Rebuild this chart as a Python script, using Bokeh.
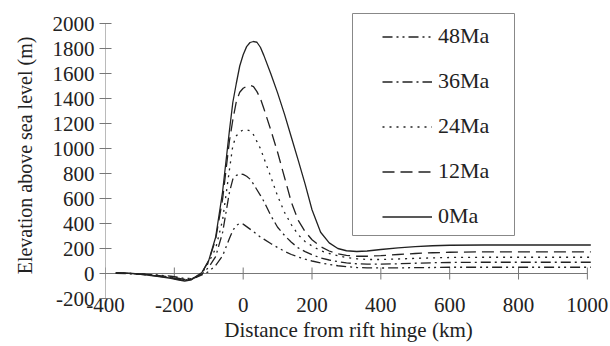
import numpy as np
from bokeh.plotting import figure
from bokeh.models import Legend, LegendItem, Range1d, FixedTicker, BoxAnnotation
from bokeh.embed import file_html
from bokeh.resources import INLINE

# ---- data ----
X_KM = [-370, -330, -290, -250, -210, -190, -170, -150, -135, -120, -100, -80, -60, -40, -30, -20, -10,
        0, 10, 20, 30, 40, 50, 60, 80, 100, 120, 140, 160, 180, 200, 225, 250, 275, 300, 330, 360,
        400, 450, 500, 550, 600, 700, 800, 900, 1010]

ELEV_0MA = [6, 2, -8, -22, -38, -50, -60, -50, -22, 8, 105, 290, 650, 1142, 1370, 1520, 1660,
            1750, 1815, 1848, 1856, 1850, 1810, 1745, 1600, 1445, 1275, 1090, 905, 715, 510, 330, 245, 200, 182, 176, 180,
            192, 205, 215, 222, 226, 228, 228, 228, 228]
ELEV_12MA = [5, 1, -8, -20, -35, -46, -55, -46, -20, 6, 100, 275, 590, 1060, 1230, 1375, 1450,
             1482, 1498, 1505, 1495, 1455, 1400, 1320, 1150, 970, 770, 570, 425, 335, 270, 215, 180, 158, 145, 138, 138,
             143, 152, 160, 166, 170, 173, 173, 173, 173]
ELEV_24MA = [4, 0, -7, -18, -32, -42, -52, -44, -22, 0, 90, 200, 425, 828, 1025, 1100, 1135,
             1148, 1150, 1142, 1110, 1055, 1000, 925, 775, 620, 490, 390, 310, 255, 220, 182, 160, 142, 128, 118, 112,
             112, 116, 121, 125, 128, 130, 130, 130, 130]
ELEV_36MA = [3, 0, -6, -15, -28, -38, -48, -42, -25, -5, 50, 135, 325, 648, 755, 785, 795,
             793, 778, 755, 715, 670, 625, 578, 465, 370, 305, 250, 205, 175, 150, 125, 108, 95, 85, 78, 75,
             75, 78, 82, 86, 88, 90, 90, 90, 90]
ELEV_48MA = [2, -1, -5, -12, -22, -30, -40, -38, -30, -12, 15, 65, 140, 280, 345, 385, 400,
             395, 375, 355, 335, 312, 292, 275, 240, 208, 178, 152, 132, 115, 100, 85, 72, 62, 55, 48, 45,
             44, 45, 47, 48, 50, 50, 50, 50, 50]

SERIES_LABELS = ["48Ma", "36Ma", "24Ma", "12Ma", "0Ma"]
X_TICKS = [-400, -200, 0, 200, 400, 600, 800, 1000]
Y_TICKS = [-200, 0, 200, 400, 600, 800, 1000, 1200, 1400, 1600, 1800, 2000]

FONT = "Liberation Serif"
INK = "#222222"
AXIS = "#777777"

# frame headroom above the top tick so the legend box fits inside the frame
p = figure(width=610, height=346, x_range=Range1d(X_TICKS[0], X_TICKS[-1] + 12),
           y_range=Range1d(Y_TICKS[0], Y_TICKS[-1] + 88),
           output_backend="svg", toolbar_location=None,
           min_border_left=105, min_border_right=19, min_border_top=12, min_border_bottom=48)
p.outline_line_color = None
p.grid.visible = False
p.background_fill_color = "white"

# x axis (labels only, below the frame)
xa = p.xaxis[0]
xa.ticker = FixedTicker(ticks=X_TICKS)
xa.major_label_overrides = {t: str(t) for t in X_TICKS}
xa.axis_line_color = None
xa.major_tick_line_color = None
xa.minor_tick_line_color = None
xa.major_label_standoff = -7
xa.axis_label = "Distance from rift hinge (km)"
xa.axis_label_standoff = 3
xa.major_label_text_font = FONT
xa.major_label_text_font_size = "21px"
xa.major_label_text_color = INK
xa.axis_label_text_font = FONT
xa.axis_label_text_font_size = "21px"
xa.axis_label_text_font_style = "normal"
xa.axis_label_text_color = INK

# y axis (ticks + labels; line drawn separately so it stops at the top tick)
ya = p.yaxis[0]
ya.ticker = FixedTicker(ticks=Y_TICKS)
ya.major_label_overrides = {t: str(t) for t in Y_TICKS}
ya.axis_line_color = None
ya.major_tick_line_color = AXIS
ya.minor_tick_line_color = None
ya.major_tick_in = 6
ya.major_tick_out = 6
ya.major_label_standoff = 5
ya.axis_label = "Elevation above sea level (m)"
ya.axis_label_standoff = 14
ya.major_label_text_font = FONT
ya.major_label_text_font_size = "21px"
ya.major_label_text_color = INK
ya.axis_label_text_font = FONT
ya.axis_label_text_font_size = "20px"
ya.axis_label_text_font_style = "normal"
ya.axis_label_text_color = INK

p.segment(x0=[X_TICKS[0]], y0=[Y_TICKS[0]], x1=[X_TICKS[0]], y1=[Y_TICKS[-1]], line_color=AXIS, line_width=1)

# zero line with crossing ticks
p.segment(x0=[X_TICKS[0]], y0=[0], x1=[X_TICKS[-1]], y1=[0], line_color=AXIS, line_width=1)
p.scatter(x=X_TICKS, y=[0] * len(X_TICKS), marker="dash", size=12, angle=np.pi / 2,
          line_color=AXIS, line_width=1)

series = [
    ("48Ma", ELEV_48MA, "10 4 2 4 2 4"),
    ("36Ma", ELEV_36MA, "10 4 2 4"),
    ("24Ma", ELEV_24MA, "2 5"),
    ("12Ma", ELEV_12MA, "12 6"),
    ("0Ma", ELEV_0MA, "solid"),
]
items = []
for label, ys, dash in series:
    r = p.line(X_KM, ys, line_color=INK, line_width=1.3, line_dash=dash)
    items.append(LegendItem(label=label, renderers=[r]))

# legend frame (screen units, relative to the plot frame)
p.add_layout(BoxAnnotation(left=247, right=409, bottom=63, top=285,
                           left_units="screen", right_units="screen",
                           bottom_units="screen", top_units="screen",
                           fill_color="white", fill_alpha=1,
                           line_color="#888888", line_width=1, line_alpha=1))

legend = Legend(items=items, location=(263, 55), orientation="vertical",
                padding=14, spacing=19, glyph_width=50, glyph_height=25,
                label_height=25, label_width=60, label_standoff=6, margin=0,
                border_line_color="#888888", border_line_alpha=0.0,
                background_fill_alpha=0,
                label_text_font=FONT, label_text_font_size="22px", label_text_color=INK)
p.add_layout(legend)

open("out.html", "w").write(file_html(p, INLINE))
